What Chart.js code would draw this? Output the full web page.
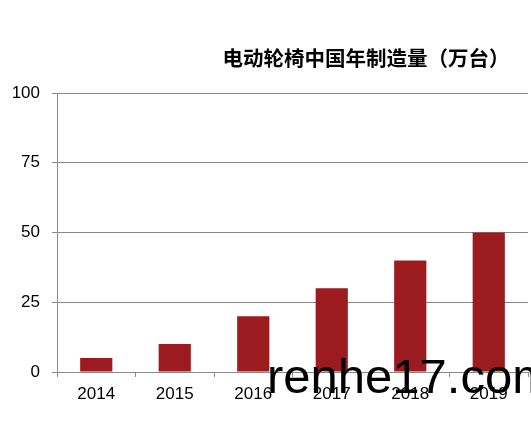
<!DOCTYPE html>
<html>
<head>
<meta charset="utf-8">
<script src="https://cdn.jsdelivr.net/npm/chart.js@4"></script>
<style>
  html, body { margin: 0; padding: 0; background: #fff; }
  #wrap { width: 531px; height: 424px; position: relative; }
</style>
</head>
<body>
<div id="wrap"><canvas id="chart"></canvas></div>
<script>
const years = ['2014', '2015', '2016', '2017', '2018', '2019'];
const output = [5, 10, 20, 30, 40, 50];
const yTicks = [0, 25, 50, 75, 100];
const titleText = '电动轮椅中国年制造量（万台）';
const watermark = 'renhe17.com';

const barColor = '#9b1b1f';
const lineColor = '#8a8a8a';
const textColor = '#000';

// title and watermark drawn by hand, the chart leaves room for them
const overlayPlugin = {
  id: 'overlay',
  afterDraw(chart) {
    const { ctx } = chart;
    ctx.save();
    ctx.fillStyle = textColor;
    ctx.textAlign = 'center';
    ctx.textBaseline = 'middle';
    ctx.font = 'bold 20.5px "Noto Sans CJK SC", sans-serif';
    ctx.fillText(titleText, 366, 58);

    ctx.fillStyle = '#000';
    ctx.textAlign = 'left';
    ctx.textBaseline = 'alphabetic';
    ctx.font = '49px "Liberation Sans", Arial, sans-serif';
    ctx.fillText(watermark, 267, 393);
    ctx.restore();
  },
};

new Chart(document.getElementById('chart'), {
  type: 'bar',
  data: {
    labels: years,
    datasets: [{
      data: output,
      backgroundColor: barColor,
      barPercentage: 0.82,
      categoryPercentage: 0.5,
    }],
  },
  options: {
    responsive: true,
    maintainAspectRatio: false,
    animation: false,
    layout: { padding: { top: 93, right: 3, bottom: 0, left: 0 } },
    plugins: {
      legend: { display: false },
      tooltip: { enabled: false },
    },
    scales: {
      x: {
        grid: {
          drawOnChartArea: false,
          drawTicks: true,
          tickLength: 5,
          color: lineColor,
        },
        border: { color: lineColor, width: 1 },
        ticks: {
          color: textColor,
          padding: 7,
          font: { family: '"Liberation Sans", Arial, sans-serif', size: 17 },
        },
        afterFit: (scale) => { scale.height = 424 - 372; },
      },
      y: {
        min: 0,
        max: 100,
        afterBuildTicks: (scale) => { scale.ticks = yTicks.map((v) => ({ value: v })); },
        grid: {
          color: lineColor,
          tickLength: 5,
        },
        border: { color: lineColor, width: 1 },
        ticks: {
          color: textColor,
          padding: 12,
          font: { family: '"Liberation Sans", Arial, sans-serif', size: 17 },
        },
        afterFit: (scale) => { scale.width = 57; },
      },
    },
  },
  plugins: [overlayPlugin],
});
</script>
</body>
</html>
